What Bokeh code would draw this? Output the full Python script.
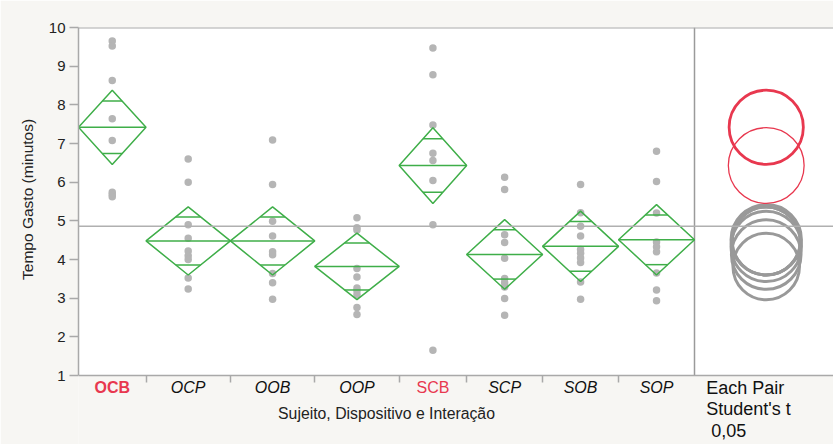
from bokeh.plotting import figure
from bokeh.models import Range1d, FixedTicker, Label, Span, LinearAxis, BoxAnnotation
from bokeh.embed import file_html
from bokeh.resources import INLINE
import numpy as np

# ---------------- data ----------------
categories = ["OCB", "OCP", "OOB", "OOP", "SCB", "SCP", "SOB", "SOP"]
counts = [8, 10, 10, 10, 8, 9, 9, 9]
means = [7.42, 4.48, 4.48, 3.82, 6.43, 4.13, 4.34, 4.51]
ci_half = [0.96, 0.88, 0.88, 0.86, 0.98, 0.90, 0.91, 0.91]
grand_mean = 4.86

pts_OCB = [9.65, 9.52, 8.63, 7.64, 7.08, 5.74, 5.68, 5.62]
pts_OCP = [6.60, 6.00, 4.90, 4.55, 4.22, 4.10, 4.00, 3.52, 3.24]
pts_OOB = [7.09, 5.94, 4.99, 4.61, 4.20, 4.12, 3.64, 3.40, 2.97]
pts_OOP = [5.08, 4.82, 4.76, 3.77, 3.55, 3.26, 3.19, 3.09, 2.76, 2.58]
pts_SCB = [9.47, 8.78, 7.48, 6.75, 6.56, 6.04, 4.90, 1.65]
pts_SCP = [6.13, 5.81, 4.64, 4.44, 4.03, 3.51, 3.40, 3.29, 2.99, 2.56]
pts_SOB = [5.94, 5.21, 4.86, 4.61, 4.26, 4.16, 4.04, 3.92, 3.42, 2.97]
pts_SOP = [6.80, 6.02, 5.20, 4.45, 4.33, 4.20, 3.65, 3.21, 2.93]
points_by_cat = [pts_OCB, pts_OCP, pts_OOB, pts_OOP, pts_SCB, pts_SCP, pts_SOB, pts_SOP]

selected = "OCB"
not_different = ["SCB"]

y_ticks = list(range(1, 11))
y_min, y_max = 1, 10
x_title = "Sujeito, Dispositivo e Interação"
y_title = "Tempo Gasto (minutos)"
panel_lines = ["Each Pair", "Student's t", "\u00a00,05"]

# ---------------- styles / layout ----------------
GREEN = "#3fae49"
RED = "#e8384f"
GRAY_PT = "#b5b5b5"
GRAY_CIRC = "#999999"
AXIS_GRAY = "#a9a9a9"
BG = "#f7f6f3"
FONT = "Liberation Sans"

W, H = 833, 444
FRAME_LEFT, FRAME_TOP, AXIS_BOTTOM = 78, 27, 375
px_per_y = (AXIS_BOTTOM - FRAME_TOP) / float(y_max - y_min)
y_low = y_max - (H - FRAME_TOP) / px_per_y

total = sum(counts)
px_per_x = 616.0 / total
x_high = (W - FRAME_LEFT) / px_per_x
panel_center = total + 8.5


def y_at(screen_y):
    return y_min - (screen_y - AXIS_BOTTOM) / px_per_y


edges = np.concatenate([[0], np.cumsum(counts)])
lefts = edges[:-1]
rights = edges[1:]
centers = (lefts + rights) / 2.0
halfw = (rights - lefts) / 2.0

p = figure(width=W, height=H, output_backend="svg", toolbar_location=None,
           x_range=Range1d(0, x_high), y_range=Range1d(y_low, y_max),
           x_axis_location=None,
           min_border_left=FRAME_LEFT, min_border_right=0, min_border_top=FRAME_TOP,
           min_border_bottom=0)
p.background_fill_color = BG
p.border_fill_color = BG
p.outline_line_color = None
p.xgrid.visible = False
p.ygrid.visible = False

# white plotting area between y_min and y_max
p.add_layout(BoxAnnotation(bottom=y_min, top=y_max, fill_color="white", fill_alpha=1,
                           line_color=None, level="underlay"))

# y axis (label padded so that it is centred on the 1..10 span, not on the whole frame)
p.yaxis.ticker = FixedTicker(ticks=y_ticks, minor_ticks=[])
p.yaxis.bounds = (y_min, y_max)
p.yaxis.axis_line_color = AXIS_GRAY
p.yaxis.axis_line_width = 1.5
p.yaxis.major_tick_line_color = AXIS_GRAY
p.yaxis.major_tick_line_width = 1.5
p.yaxis.major_tick_out = 9
p.yaxis.major_tick_in = 0
p.yaxis.minor_tick_line_color = None
p.yaxis.major_label_text_font = FONT
p.yaxis.major_label_text_font_size = "15px"
p.yaxis.major_label_text_color = "#222222"
p.yaxis.major_label_standoff = 4
p.yaxis.axis_label = "\u00a0" * 17 + y_title
p.yaxis.axis_label_text_font = FONT
p.yaxis.axis_label_text_font_size = "15.5px"
p.yaxis.axis_label_text_font_style = "normal"
p.yaxis.axis_label_text_color = "#222222"
p.yaxis.axis_label_standoff = 10

# x axis fixed at y_min: tick marks at category boundaries
xaxis = LinearAxis(fixed_location=y_min, ticker=FixedTicker(ticks=list(edges[1:-1]), minor_ticks=[]))
xaxis.axis_line_color = AXIS_GRAY
xaxis.axis_line_width = 1.5
xaxis.major_tick_line_color = AXIS_GRAY
xaxis.major_tick_line_width = 1.5
xaxis.major_tick_out = 0
xaxis.major_tick_in = 7
xaxis.minor_tick_line_color = None
xaxis.major_label_text_alpha = 0
xaxis.major_label_text_font_size = "1px"
xaxis.major_label_standoff = 0
p.add_layout(xaxis, "above")

# top border, grand mean line and panel separator
p.add_layout(Span(location=y_max, dimension="width", line_color=AXIS_GRAY, line_width=2))
p.add_layout(Span(location=grand_mean, dimension="width", line_color="#b0b0b0", line_width=1.5))
p.segment(x0=[total], y0=[y_min], x1=[total], y1=[y_max], line_color="#9a9a9a", line_width=1.5)

# points
px, py = [], []
for c, pts in zip(centers, points_by_cat):
    px += [c] * len(pts)
    py += pts
p.scatter(px, py, size=7.5, fill_color=GRAY_PT, line_color=None)

# diamonds
xs, ys = [], []
for l, r, c, m, h in zip(lefts, rights, centers, means, ci_half):
    xs.append([l, c, r, c, l])
    ys.append([m, m + h, m, m - h, m])
p.patches(xs, ys, fill_color=None, line_color=GREEN, line_width=1.5)
p.segment(x0=list(lefts), y0=means, x1=list(rights), y1=means, line_color=GREEN, line_width=1.5)
k = 1 / np.sqrt(2)
ov_x0, ov_x1, ov_y = [], [], []
for c, hw, m, h in zip(centers, halfw, means, ci_half):
    w = hw * (1 - k)
    for s in (1, -1):
        ov_x0.append(c - w)
        ov_x1.append(c + w)
        ov_y.append(m + s * h * k)
p.segment(x0=ov_x0, y0=ov_y, x1=ov_x1, y1=ov_y, line_color=GREEN, line_width=1.5)

# comparison circles
gray_idx = [i for i, c in enumerate(categories) if c != selected and c not in not_different]
p.circle(x=[panel_center] * len(gray_idx), y=[means[i] for i in gray_idx],
         radius=[ci_half[i] for i in gray_idx], radius_dimension="y",
         fill_color=None, line_color=GRAY_CIRC, line_width=3)
nd_idx = [categories.index(c) for c in not_different]
p.circle(x=[panel_center] * len(nd_idx), y=[means[i] for i in nd_idx],
         radius=[ci_half[i] for i in nd_idx], radius_dimension="y",
         fill_color=None, line_color=RED, line_width=1.3)
si = categories.index(selected)
p.circle(x=[panel_center], y=[means[si]], radius=[ci_half[si]], radius_dimension="y",
         fill_color=None, line_color=RED, line_width=2.8)

# category labels
for c, name in zip(centers, categories):
    if name == selected:
        color, style = RED, "bold"
    elif name in not_different:
        color, style = RED, "normal"
    else:
        color, style = "#111111", "italic"
    p.add_layout(Label(x=c, y=y_at(387), text=name, text_align="center",
                       text_baseline="middle", text_font=FONT, text_font_size="16px",
                       text_color=color, text_font_style=style))

p.add_layout(Label(x=total / 2.0, y=y_at(413), text=x_title, text_align="center",
                   text_baseline="middle", text_font=FONT, text_font_size="15.8px",
                   text_color="#222222"))

for i, t in enumerate(panel_lines):
    p.add_layout(Label(x=total + 1.4, y=y_at(387 + 21.5 * i), text=t, text_align="left",
                       text_baseline="middle", text_font=FONT, text_font_size="18px",
                       text_color="#111111"))

open("out.html", "w").write(file_html(p, INLINE))
